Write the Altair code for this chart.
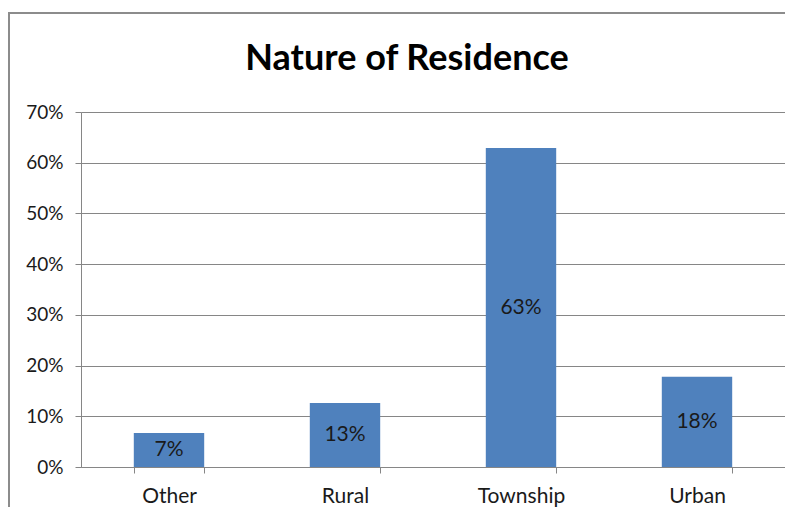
import altair as alt
import pandas as pd

categories = ["Other", "Rural", "Township", "Urban"]
shares = [0.067, 0.126, 0.629, 0.178]
y_ticks = [0, 0.1, 0.2, 0.3, 0.4, 0.5, 0.6, 0.7]

df = pd.DataFrame({"category": categories, "share": shares})

FONT = "Lato"
GRID = "#868686"

x_enc = alt.X(
    "category:N",
    sort=categories,
    title=None,
    scale=alt.Scale(paddingInner=0.6, paddingOuter=0.3),
    axis=alt.Axis(
        labelAngle=0, labelFont=FONT, labelFontSize=21, labelColor="#1a1a1a",
        labelPadding=12, tickBand="extent", ticks=True, tickSize=6,
        tickColor=GRID, domainColor=GRID, grid=False,
    ),
)
y_enc = alt.Y(
    "share:Q",
    title=None,
    scale=alt.Scale(domain=[0, 0.7], nice=False),
    axis=alt.Axis(
        values=y_ticks, format=".0%", labelFont=FONT, labelFontSize=19,
        labelColor="#1a1a1a", labelPadding=12, tickSize=6, tickColor=GRID,
        domainColor=GRID, gridColor=GRID, gridWidth=1,
    ),
)

bars = alt.Chart(df).mark_bar(color="#4F81BD").encode(x=x_enc, y=y_enc)

labels = alt.Chart(df).transform_calculate(
    mid="datum.share / 2"
).mark_text(font=FONT, fontSize=21, color="#1a1a1a", baseline="middle").encode(
    x=alt.X("category:N", sort=categories),
    y=alt.Y("mid:Q"),
    text=alt.Text("share:Q", format=".0%"),
)

frame = alt.Chart(df).mark_rect(
    fill=None, stroke="#8c8c8c", strokeWidth=2, clip=False
).encode(
    x=alt.value(-72), y=alt.value(-99), x2=alt.value(1200), y2=alt.value(900)
).transform_filter(alt.datum.category == "Other")

chart = alt.layer(frame, bars, labels).properties(
    width=704,
    height=355,
    title=alt.TitleParams(
        "Nature of Residence", font=FONT, fontSize=36, fontWeight="bold",
        color="#000000", anchor="middle", frame="group", dx=-26, offset=-102,
        baseline="bottom",
    ),
    autosize=alt.AutoSizeParams(type="none"),
    padding={"left": 73, "top": 104, "right": 0, "bottom": 40},
).configure_view(stroke=None).configure(background="white")

chart.save("out.html", embed_options={"renderer": "svg", "actions": False})
